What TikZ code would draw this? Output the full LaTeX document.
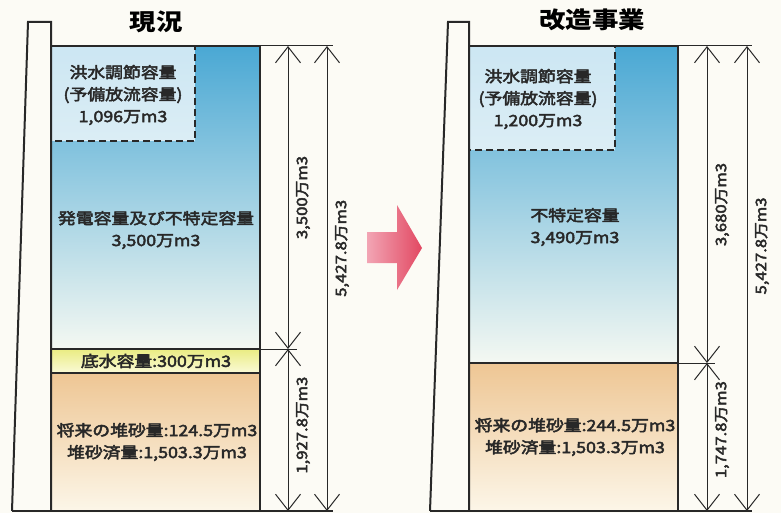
\documentclass[tikz,border=0pt]{standalone}
\usepackage{fontspec}
\setmainfont{Noto Sans CJK JP}[FakeStretch=1.15]
\newfontfamily\volfont{Noto Sans CJK JP}[FakeStretch=1.15, FakeBold=3]
\usetikzlibrary{arrows.meta,positioning}

\definecolor{paper}{RGB}{252,251,245}
\definecolor{waterTop}{RGB}{74,168,212}
\definecolor{waterBot}{RGB}{244,248,242}
\definecolor{deadTop}{RGB}{234,236,130}
\definecolor{deadBot}{RGB}{250,250,215}
\definecolor{sandTop}{RGB}{238,198,148}
\definecolor{sandBot}{RGB}{252,246,232}
\definecolor{pinkL}{RGB}{242,165,180}
\definecolor{pinkR}{RGB}{226,72,98}
\definecolor{ink}{RGB}{40,40,40}

\tikzset{
  wall/.style={line width=2pt, draw=ink, line join=miter},
  dimline/.style={line width=1pt, draw=ink, {Straight Barb[length=16pt,width=25pt]}-{Straight Barb[length=16pt,width=25pt]}},
  extline/.style={line width=1pt, draw=ink},
  floodbox/.style={line width=2pt, draw=ink, dash pattern=on 7pt off 4pt, fill=white, fill opacity=0.72},
  vollabel/.style={align=center, text=ink, font=\volfont\fontsize{15.5}{22}\selectfont},
  dimlabel/.style={xshift=15pt, rotate=90, text=ink, font=\volfont\fontsize{14.5}{17}\selectfont},
  paneltitle/.style={text=black, font=\fontsize{23}{25}\selectfont\bfseries}
}

\begin{document}
\begin{tikzpicture}[x=1pt, y=-1pt]
  \path[use as bounding box, fill=paper] (0,0) rectangle (781,513);

  % 現況
  \shade[top color=waterTop, bottom color=waterBot] (51,46) rectangle (260,349);
  \shade[top color=deadTop, bottom color=deadBot] (51,349) rectangle (260,373);
  \shade[top color=sandTop, bottom color=sandBot] (51,373) rectangle (260,511);
  \draw[floodbox] (51,46) rectangle (195,141);
  \draw[wall] (12,511) -- (28,22) -- (51,22) -- (51,511);
  \draw[wall] (51,46) -- (260,46) -- (260,511);
  \draw[wall] (51,349) -- (260,349) (51,373) -- (260,373);
  \draw[wall] (12,511) -- (333,511);
  \draw[extline] (260,46) -- (333,46);
  \draw[extline] (260,349) -- (297,349);

  \coordinate (nowA-top) at (288,46);
  \coordinate (nowA-mid) at (288,349);
  \coordinate (nowA-bot) at (288,511);
  \coordinate (nowB-top) at (327,46);
  \coordinate (nowB-bot) at (327,511);
  \draw[dimline] (nowA-top) -- node[dimlabel] (now-upper) {3,500万m3} (nowA-mid);
  \draw[dimline] (nowA-mid) -- node[dimlabel, pos=0.47] (now-lower) {1,927.8万m3} (nowA-bot);
  \draw[dimline] (nowB-top) -- node[dimlabel, pos=0.435] (now-total) {5,427.8万m3} (nowB-bot);

  \node[paneltitle] (now-title) at (156,22) {現況};
  \node[vollabel] (now-flood) at (123,95) {洪水調節容量\\(予備放流容量)\\1,096万m3};
  \node[vollabel] (now-power) at (156,230) {発電容量及び不特定容量\\3,500万m3};
  \node[vollabel] (now-dead) at (156,361) {底水容量:300万m3};
  \node[vollabel] (now-sand) at (157,442) {将来の堆砂量:124.5万m3\\堆砂済量:1,503.3万m3};

  % 改造事業
  \shade[top color=waterTop, bottom color=waterBot] (469,46) rectangle (678,363);
  \shade[top color=sandTop, bottom color=sandBot] (469,363) rectangle (678,511);
  \draw[floodbox] (469,46) rectangle (615,150);
  \draw[wall] (430,511) -- (448,22) -- (469,22) -- (469,511);
  \draw[wall] (469,46) -- (678,46) -- (678,511);
  \draw[wall] (469,363) -- (678,363);
  \draw[wall] (430,511) -- (752,511);
  \draw[extline] (678,46) -- (752,46);
  \draw[extline] (678,363) -- (715,363);

  \coordinate (newA-top) at (707,46);
  \coordinate (newA-mid) at (707,363);
  \coordinate (newA-bot) at (707,511);
  \coordinate (newB-top) at (747,46);
  \coordinate (newB-bot) at (747,511);
  \draw[dimline] (newA-top) -- node[dimlabel] (new-upper) {3,680万m3} (newA-mid);
  \draw[dimline] (newA-mid) -- node[dimlabel, pos=0.45] (new-lower) {1,747.8万m3} (newA-bot);
  \draw[dimline] (newB-top) -- node[dimlabel, pos=0.43] (new-total) {5,427.8万m3} (newB-bot);

  \node[paneltitle] (new-title) at (592,20) {改造事業};
  \node[vollabel] (new-flood) at (538,99) {洪水調節容量\\(予備放流容量)\\1,200万m3};
  \node[vollabel] (new-open) at (575,227) {不特定容量\\3,490万m3};
  \node[vollabel] (new-sand) at (575,437) {将来の堆砂量:244.5万m3\\堆砂済量:1,503.3万m3};

  % arrow between the panels
  \shade[left color=pinkL, right color=pinkR] (367,232) -- (397,232) -- (397,205) -- (422,248)
    -- (397,290) -- (397,263) -- (367,263) -- cycle;
\end{tikzpicture}
\end{document}
